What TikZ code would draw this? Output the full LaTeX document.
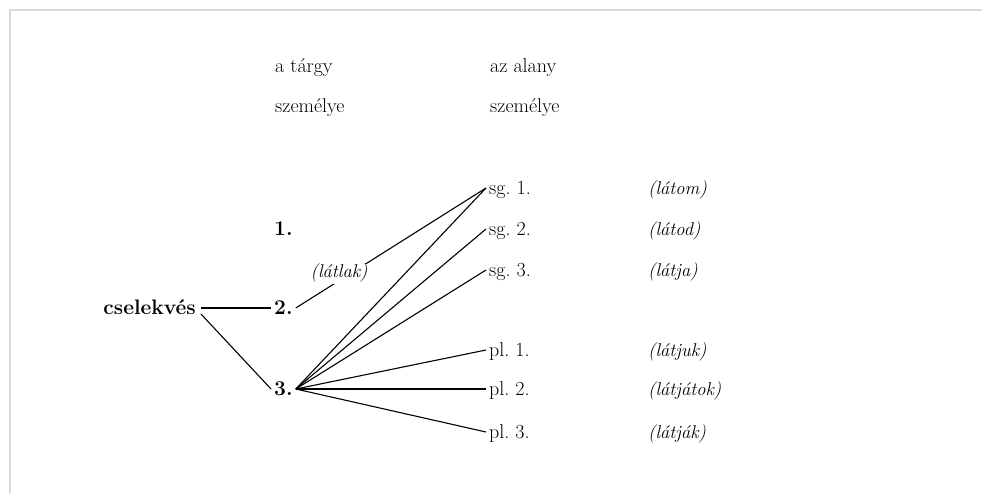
\documentclass[tikz,border=0pt]{standalone}
\begin{document}
\begin{tikzpicture}
[x=1pt,y=-1pt,
  worddecorate/.style={anchor=west,inner xsep=3pt,inner ysep=2pt,text height=12pt,
    text depth=0pt,font=\fontsize{20}{24}\selectfont\frenchspacing},%
  numdecorate/.style={worddecorate,font=\fontsize{21}{25}\selectfont\bfseries},%
  formdecorate/.style={worddecorate,font=\fontsize{18.5}{22}\selectfont\itshape},%
  linedecorate/.style={-,line width=1.1pt}]
\useasboundingbox (0,0) rectangle (982,493);
%% frame
\draw[black!15,line width=2pt] (10,493) -- (10,10) -- (982,10);
%% column heads
\foreach \nodename/\x/\y/\txt in {targy/272/66/a tárgy, targyszem/272/106/személye,
  alany/487/66/az alany, alanyszem/487/106/személye} {
  \node (\nodename) at (\x,\y) [worddecorate] {\txt};
}
%% persons of the subject and the verb forms
\foreach \nodename/\y/\txt/\form in {sg1/188/sg. 1./látom, sg2/229/sg. 2./látod,
  sg3/270/sg. 3./látja, pl1/350/pl. 1./látjuk, pl2/389/pl. 2./látjátok,
  pl3/432/pl. 3./látják} {
  \node (\nodename) at (486,\y) [worddecorate] {\txt};
  \node (\nodename form) at (645,\y) [formdecorate] {(\form)};
}
%% persons of the object
\foreach \nodename/\y in {1/229, 2/308, 3/389} {
  \node (n\nodename) at (271,\y) [numdecorate] {\nodename.};
}
\node (cs) at (201,308) [numdecorate,anchor=east,inner xsep=5pt] {cselekvés};
%% edges or lines
\path (cs.east) edge[linedecorate] (n2.west)
  ([yshift=-6pt]cs.east) edge[linedecorate] (n3.west)
  (n2.east) edge[linedecorate] node[pos=0.27,formdecorate,anchor=center,fill=white,
    inner sep=1.5pt,text depth=5pt,xshift=-8pt,yshift=2pt] {(látlak)} (sg1.west);
\path
\foreach \endnode in {sg1, sg2, sg3, pl1, pl2, pl3} {
  (n3.east) edge[linedecorate] (\endnode.west)
};
\end{tikzpicture}
\end{document}
